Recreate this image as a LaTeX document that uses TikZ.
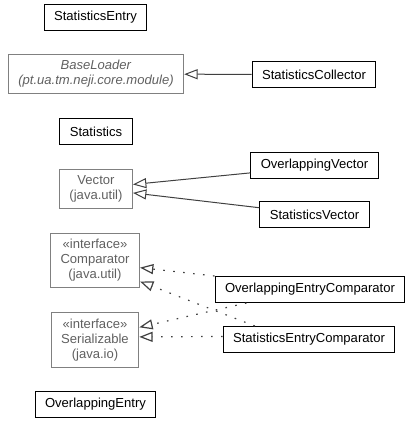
\documentclass[tikz,border=0pt]{standalone}
\usepackage{fontspec}
\setmainfont{Liberation Sans}
\usepackage{xcolor}
\usepackage{tikz}
\usetikzlibrary{arrows.meta}

\definecolor{umlgray}{HTML}{808080}
\definecolor{umltext}{HTML}{606060}
\definecolor{umlline}{HTML}{404040}

\begin{document}
\begin{tikzpicture}[x=0.75pt,y=-0.75pt,
	cls/.style={draw=black,line width=0.75pt,inner xsep=7.5pt,inner ysep=0pt,minimum height=19.5pt,align=center,font=\fontsize{9.8}{11.25}\selectfont},
	ext/.style={cls,draw=umlgray,text=umltext,inner ysep=4.5pt},
	inherit/.style={draw=umlline,line width=0.75pt,-{Triangle[open,length=10pt,width=7.5pt]}},
	realize/.style={inherit,line width=0.9pt,dash pattern=on 1.2pt off 6.3pt}]
	\useasboundingbox (0,0) rectangle (419,421);

	\node[cls] (entry) at (95.5,17) {StatisticsEntry};
	\node[ext] (loader) at (96,74) {\textit{BaseLoader}\\\textit{(pt.ua.tm.neji.core.module)}};
	\node[cls] (collector) at (314,74.5) {StatisticsCollector};
	\node[cls] (stats) at (96,131.5) {Statistics};
	\node[ext] (vector) at (96,189) {Vector\\(java.util)};
	\node[cls] (ovector) at (314.5,165) {OverlappingVector};
	\node[cls] (svector) at (314.5,214.5) {StatisticsVector};
	\node[ext] (comparator) at (95,260.5) {«interface»\\Comparator\\(java.util)};
	\node[cls] (oecomp) at (310,289.5) {OverlappingEntryComparator};
	\node[ext] (serial) at (95,340) {«interface»\\Serializable\\(java.io)};
	\node[cls] (secomp) at (309,339.5) {StatisticsEntryComparator};
	\node[cls] (oentry) at (95.5,404) {OverlappingEntry};

	% generalization
	\draw[inherit] (collector) -- (loader);
	\draw[inherit] (ovector.187) -- (vector.7);
	\draw[inherit] (svector.173) -- (vector.-6);

	% realization
	\draw[realize] (oecomp.north west) -- (comparator.-9);
	\draw[realize] (oecomp.192) -- (serial.16);
	\draw[realize] (secomp.166) -- (comparator.-25);
	\draw[realize] (secomp.178) -- (serial.4);
\end{tikzpicture}
\end{document}
